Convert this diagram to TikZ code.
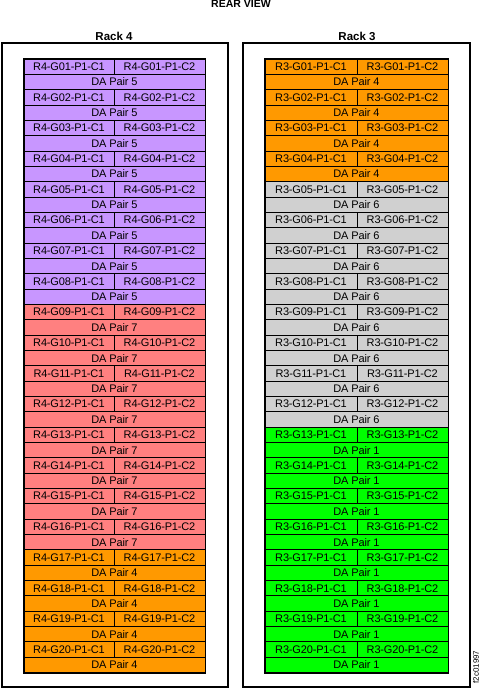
\documentclass[tikz,border=0pt]{standalone}
\usepackage{fontspec}
\setmainfont{Liberation Sans}
\newfontfamily\cellfont[LetterSpace=-1.5]{Liberation Sans}
\definecolor{cpurple}{RGB}{200,150,255}
\definecolor{csalmon}{RGB}{255,128,128}
\definecolor{corange}{RGB}{255,153,0}
\definecolor{cgray}{RGB}{208,208,208}
\definecolor{cgreen}{RGB}{0,255,0}
\begin{document}
\begin{tikzpicture}[x=1pt,y=-1pt,
  cellbox/.style={draw=black, line width=0.9pt, inner sep=0pt, minimum height=15.35pt,
    font=\cellfont\fontsize{11}{12}\selectfont},
  rackbox/.style={draw=black, line width=1.8pt, inner sep=0pt},
  gridbox/.style={draw=black, line width=1.4pt, inner sep=0pt},
  racktitle/.style={font=\bfseries\fontsize{11.5}{13}\selectfont, inner sep=0pt},
  maintitle/.style={font=\bfseries\fontsize{10.5}{12}\selectfont, inner sep=0pt}]
\useasboundingbox (0,0) rectangle (482,689);
\node[maintitle] (title) at (241,4) {REAR VIEW};
\node[racktitle] (t4) at (114,36) {Rack 4};
\node[racktitle] (t3) at (357,36) {Rack 3};
\node[rackbox, minimum width=226pt, minimum height=644pt] (rack4) at (115,365) {};
\node[rackbox, minimum width=227pt, minimum height=644pt] (rack3) at (356.5,365) {};
\foreach \g in {1,...,20} {
  \edef\gid{\ifnum\g<10 0\fi\g}
  \pgfmathsetmacro{\yt}{59+(\g-1)*30.68}
  \ifnum\g<9 \def\lc{cpurple}\def\lp{5}\else\ifnum\g<17 \def\lc{csalmon}\def\lp{7}\else\def\lc{corange}\def\lp{4}\fi\fi
  \ifnum\g<5 \def\rc{corange}\def\rp{4}\else\ifnum\g<13 \def\rc{cgray}\def\rp{6}\else\def\rc{cgreen}\def\rp{1}\fi\fi
  \node[cellbox, fill=\lc, minimum width=90pt] (L\g-c1) at (69,\yt+7.67) {R4-G\gid-P1-C1};
  \node[cellbox, fill=\lc, minimum width=91pt] (L\g-c2) at (159.5,\yt+7.67) {R4-G\gid-P1-C2};
  \node[cellbox, fill=\lc, minimum width=181pt] (L\g-da) at (114.5,\yt+23.01) {DA Pair \lp};
  \node[cellbox, fill=\rc, minimum width=92pt] (R\g-c1) at (311,\yt+7.67) {R3-G\gid-P1-C1};
  \node[cellbox, fill=\rc, minimum width=91pt] (R\g-c2) at (402.5,\yt+7.67) {R3-G\gid-P1-C2};
  \node[cellbox, fill=\rc, minimum width=183pt] (R\g-da) at (356.5,\yt+23.01) {DA Pair \rp};
}
\draw[gridbox] (L1-c1.north west) rectangle (L20-da.south east);
\draw[gridbox] (R1-c1.north west) rectangle (R20-da.south east);
\node[rotate=90, font=\fontsize{8}{9}\selectfont, inner sep=0pt] (code) at (476,667) {f2c01997};
\end{tikzpicture}
\end{document}
